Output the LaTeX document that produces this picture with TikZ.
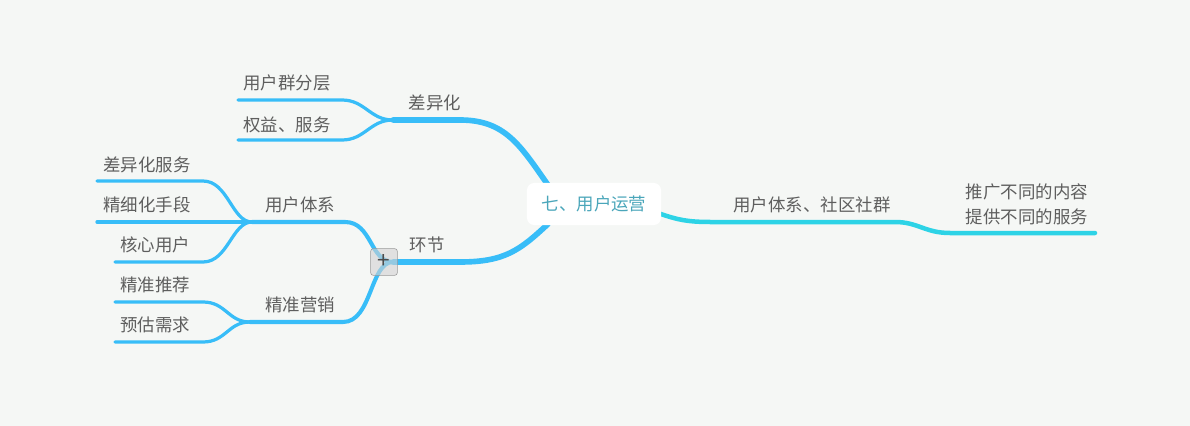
\documentclass[tikz,border=0pt]{standalone}
\usepackage{fontspec}
\setmainfont{Noto Sans CJK SC}
\usetikzlibrary{positioning}
\definecolor{bgcol}{HTML}{F5F7F5}
\definecolor{branch}{HTML}{38BDF8}
\definecolor{cyanline}{HTML}{2DD3E6}
\definecolor{labelgray}{HTML}{5E5E5E}
\definecolor{rootteal}{HTML}{4AA6BA}
\tikzset{
    root/.style={rectangle, rounded corners=0.18cm, minimum width=3.35cm, minimum height=1.05cm, fill=white, text=rootteal, font=\fontsize{12.4}{15}\selectfont},
    topic/.style={text=labelgray, inner sep=1pt, align=center, font=\fontsize{12.4}{17.8}\selectfont},
    fold/.style={rectangle, rounded corners=0.07cm, minimum size=0.67cm, inner sep=0pt, draw=gray!80, fill=gray!35, fill opacity=0.6, text opacity=1, text=black!70, font=\fontsize{16}{16}\selectfont},
    mainline/.style={draw=branch, line width=4pt, line cap=round},
    subline/.style={draw=branch, line width=2.9pt, line cap=round},
    leafline/.style={draw=branch, line width=2.3pt, line cap=round},
    rightline/.style={draw=cyanline, line width=3.2pt, line cap=round}
}

\begin{document}
\begin{tikzpicture}[x=0.025cm, y=-0.025cm]

\useasboundingbox (0,0) rectangle (1190,426);
\fill[bgcol] (0,0) rectangle (1190,426);

% Junctions
\coordinate (rootul) at (548,185);
\coordinate (rootll) at (548,224);
\coordinate (rootr) at (655,212);
\coordinate (diff) at (393,120);
\coordinate (link) at (393,262);
\coordinate (sys) at (252,222);
\coordinate (mkt) at (250,322);
\coordinate (l1) at (238,100);
\coordinate (l2) at (238,140);
\coordinate (l3) at (97,181);
\coordinate (l4) at (97,222);
\coordinate (l5) at (115,262);
\coordinate (l6) at (115,302);
\coordinate (l7) at (115,342);
\coordinate (rend) at (1095,233);

% Connectors
\draw[mainline] (rootul) .. controls (520,145) and (505,120) .. (460,120) -- (diff);
\draw[mainline] (rootll) .. controls (520,250) and (505,262) .. (460,262) -- (link);
\draw[rightline] (rootr) .. controls (675,219) and (685,222) .. (710,222) -- (895,222) .. controls (918,222) and (925,233) .. (950,233) -- (rend);

\draw[leafline] (diff) .. controls (370,120) and (365,100) .. (342,100) -- (l1);
\draw[leafline] (diff) .. controls (370,120) and (365,140) .. (342,140) -- (l2);

\draw[subline] (link) .. controls (370,262) and (372,222) .. (345,222) -- (sys);
\draw[subline] (link) .. controls (370,262) and (372,322) .. (343,322) -- (mkt);

\draw[leafline] (sys) .. controls (232,222) and (228,181) .. (203,181) -- (l3);
\draw[leafline] (sys) -- (l4);
\draw[leafline] (sys) .. controls (232,222) and (228,262) .. (203,262) -- (l5);

\draw[leafline] (mkt) .. controls (228,322) and (226,302) .. (203,302) -- (l6);
\draw[leafline] (mkt) .. controls (228,322) and (226,342) .. (203,342) -- (l7);

% Nodes
\node (center) [root] at (594,204) {七、用户运营};
\node (chayi) [topic] at (435,103) {差异化};
\node (qunfen) [topic] at (287,83) {用户群分层};
\node (quanyi) [topic] at (287,125) {权益、服务};
\node (huanjie) [topic] at (427,245) {环节};
\node (tixi) [topic] at (300,205) {用户体系};
\node (cyfw) [topic] at (147,165) {差异化服务};
\node (jxsd) [topic] at (147,205) {精细化手段};
\node (hxyh) [topic] at (155,245) {核心用户};
\node (yingxiao) [topic] at (300,305) {精准营销};
\node (tuijian) [topic] at (155,285) {精准推荐};
\node (xuqiu) [topic] at (155,325) {预估需求};
\node (shequn) [topic] at (812,205) {用户体系、社区社群};
\node (fuwu) [topic] at (1027,204) {推广不同的内容\\提供不同的服务};
\node (plus) [fold] at (384,262) {\raisebox{-1.5pt}{+}};

\end{tikzpicture}
\end{document}
